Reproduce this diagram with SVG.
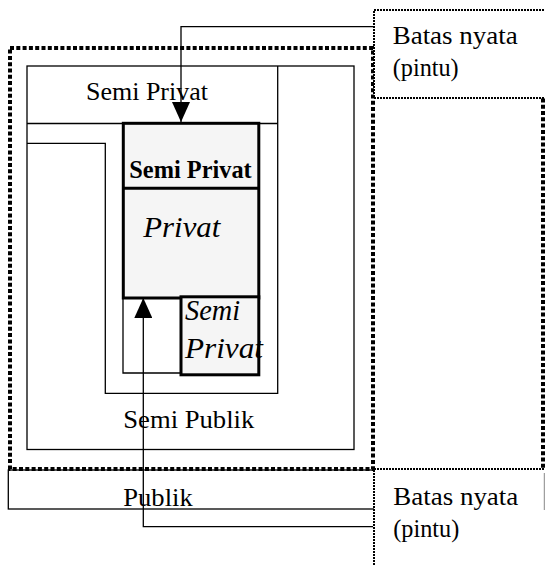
<svg xmlns="http://www.w3.org/2000/svg" width="545" height="565" viewBox="0 0 545 565">
<style>
.thin{fill:none;stroke:#000;stroke-width:1.3}
.thick{fill:#f5f5f5;stroke:#000;stroke-width:3}
.t{font-family:"Liberation Serif","Times New Roman",serif;font-size:26px;fill:#000}
.b{font-weight:bold;font-size:25px}
.i{font-style:italic;font-size:30px}
.conn{fill:none;stroke:#000;stroke-width:1.3}
.fdot{fill:#fff;stroke:#000;stroke-width:2;stroke-dasharray:2,1}
</style>
<defs>
<marker id="ah" viewBox="0 0 20 18" refX="20" refY="9" markerWidth="20" markerHeight="18" markerUnits="userSpaceOnUse" orient="auto">
<path d="M0,0 L20,9 L0,18 Z" fill="#000"/>
</marker>
</defs>
<rect width="545" height="565" fill="#fff"/>

<g id="batas-frame" fill="none" stroke="#000" stroke-width="4" stroke-dasharray="4,2.3">
<rect x="10" y="48" width="363" height="421"/>
<line x1="543" y1="48" x2="543" y2="469"/>
</g>

<g id="semi-publik">
<rect class="thin" x="27" y="66" width="327" height="383.5"/>
<text class="t" x="123.3" y="427.7" textLength="131" lengthAdjust="spacingAndGlyphs">Semi Publik</text>
</g>

<g id="semi-privat-outer">
<polyline class="thin" points="27,123.5 277.7,123.5"/>
<polyline class="thin" points="277.7,66 277.7,393.3 105.3,393.3 105.3,143.3 27,143.3"/>
<text class="t" x="86" y="100" textLength="122" lengthAdjust="spacingAndGlyphs">Semi Privat</text>
</g>

<g id="inner-corner">
<polyline class="thin" points="123,298 123,373 181,373"/>
</g>

<g id="privat">
<rect class="thick" x="123.3" y="123.3" width="135.5" height="174.7"/>
<line stroke="#000" stroke-width="3" x1="123.3" y1="188.3" x2="258.8" y2="188.3"/>
<text class="t b" x="129.3" y="178.3" textLength="122.4" lengthAdjust="spacingAndGlyphs">Semi Privat</text>
<text class="t i" x="143.3" y="236.7" textLength="77" lengthAdjust="spacingAndGlyphs">Privat</text>
</g>

<g id="semi-privat-small">
<rect x="181" y="296.8" width="77.8" height="78" fill="#f5f5f5"/>
<text class="t i" x="185" y="320" textLength="55" lengthAdjust="spacingAndGlyphs">Semi</text>
<text class="t i" x="185" y="358" textLength="78" lengthAdjust="spacingAndGlyphs">Privat</text>
<rect x="181" y="296.8" width="77.8" height="78" fill="none" stroke="#000" stroke-width="3"/>
</g>

<g id="publik">
<rect class="thin" x="8.3" y="470" width="366.7" height="39"/>
<text class="t" x="123.3" y="506" textLength="69.4" lengthAdjust="spacingAndGlyphs">Publik</text>
</g>

<g id="label-top">
<path class="fdot" d="M547,10 H374 V98 H547"/>
<text class="t" x="392.7" y="43.5" textLength="125" lengthAdjust="spacingAndGlyphs">Batas nyata</text>
<text class="t" x="392.7" y="76" textLength="66" lengthAdjust="spacingAndGlyphs">(pintu)</text>
</g>

<g id="label-bottom">
<path class="fdot" d="M547,469 H374 V567"/>
<line x1="544.3" y1="473" x2="544.3" y2="510" stroke="#888" stroke-width="1"/>
<text class="t" x="393.3" y="505" textLength="125" lengthAdjust="spacingAndGlyphs">Batas nyata</text>
<text class="t" x="393.3" y="537" textLength="66" lengthAdjust="spacingAndGlyphs">(pintu)</text>
</g>

<g id="connectors">
<polyline class="conn" points="373,26.7 181,26.7 181,122" marker-end="url(#ah)"/>
<polyline class="conn" points="373,526.7 143.3,526.7 143.3,298" marker-end="url(#ah)"/>
</g>
</svg>
